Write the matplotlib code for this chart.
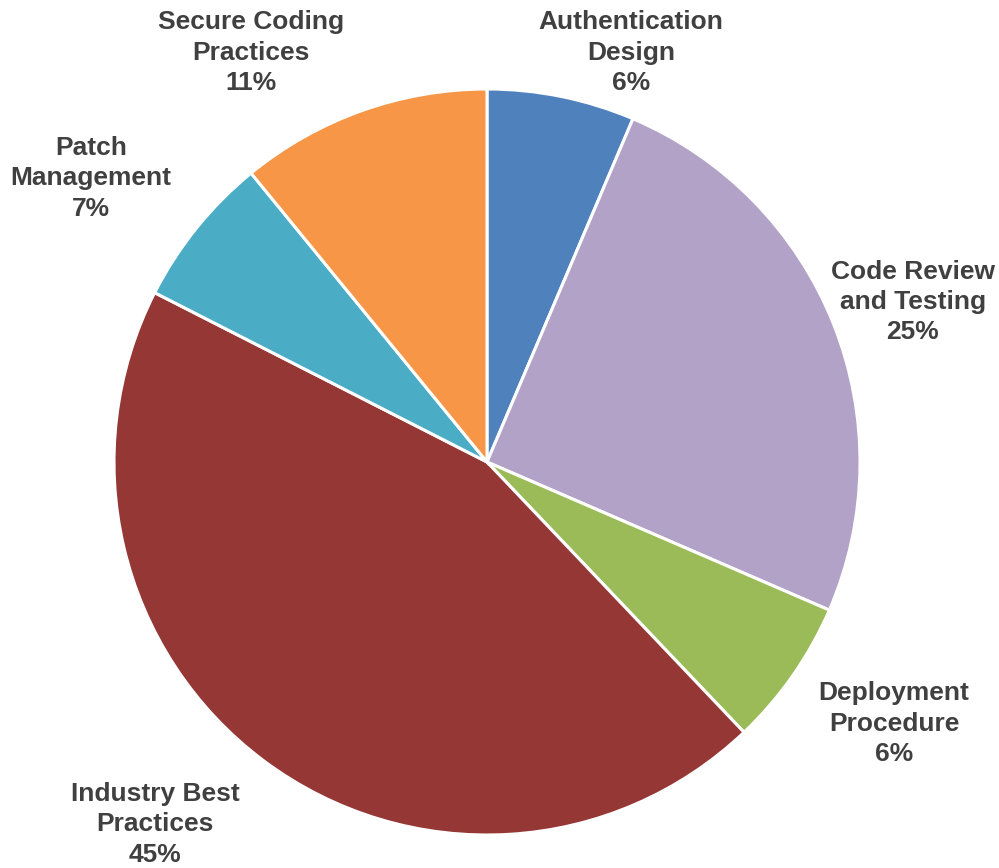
import matplotlib.pyplot as plt

# slice data, clockwise from 12 o'clock
categories = ["Authentication\nDesign", "Code Review\nand Testing", "Deployment\nProcedure",
              "Industry Best\nPractices", "Patch\nManagement", "Secure Coding\nPractices"]
values = [6.4, 25.1, 6.4, 44.6, 6.6, 10.9]
colors = ["#4F81BD", "#B3A2C7", "#9BBB59", "#953735", "#4BACC6", "#F79646"]

# label centres, in units of the pie radius from the centre
label_pos = [(0.386, 1.097), (1.142, 0.429), (1.091, -0.702),
             (-0.890, -0.971), (-1.062, 0.761), (-0.633, 1.097)]

W, H = 999, 868
fig = plt.figure(figsize=(W / 100, H / 100), dpi=100)
ax = fig.add_axes([0, 0, 1, 1])
ax.set_xlim(0, W)
ax.set_ylim(0, H)
ax.set_aspect("equal")
ax.axis("off")

cx, cy, R = 487, H - 462, 373
wedges, _ = ax.pie(values, colors=colors, startangle=90, counterclock=False,
                   center=(cx, cy), radius=R,
                   wedgeprops=dict(edgecolor="white", linewidth=2.2))
ax.set_xlim(0, W)
ax.set_ylim(0, H)

total = sum(values)
for cat, v, (px, py) in zip(categories, values, label_pos):
    ax.text(cx + px * R, cy + py * R, f"{cat}\n{round(v / total * 100)}%",
            ha="center", va="center", fontsize=19, fontweight="bold",
            color="#404040", family="Liberation Sans", linespacing=1.34)

fig.savefig("out.png", dpi=100)
